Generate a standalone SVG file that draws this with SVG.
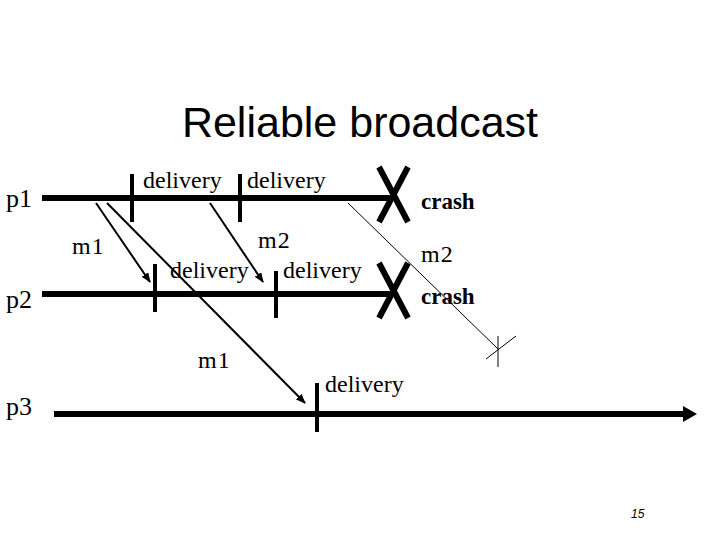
<svg xmlns="http://www.w3.org/2000/svg" width="720" height="540" viewBox="0 0 720 540">
<style>
.proc{stroke:#000;stroke-width:6;fill:none}
.tick{stroke:#000;stroke-width:4}
.x{stroke:#000;stroke-width:6}
.msg{stroke:#000;stroke-width:2;fill:none}
.thin{stroke:#000;stroke-width:1;fill:none}
.lbl{font-family:"Liberation Serif",serif;font-size:24px;fill:#000}
.plbl{font-family:"Liberation Serif",serif;font-size:26px;fill:#000}
.crash{font-family:"Liberation Serif",serif;font-size:23px;font-weight:bold;fill:#000}
</style>
<defs>
<marker id="ah" markerWidth="10" markerHeight="8" refX="9" refY="4" orient="auto" markerUnits="userSpaceOnUse">
<path d="M0,0 L10,4 L0,8 z" fill="#000"/>
</marker>
</defs>
<rect width="720" height="540" fill="#fff"/>
<text x="360" y="137" text-anchor="middle" font-family="Liberation Sans,Arial,sans-serif" font-size="43" fill="#000">Reliable broadcast</text>

<g id="p1">
<text class="plbl" x="6" y="207">p1</text>
<line class="proc" x1="42" y1="198" x2="393" y2="198"/>
<line class="tick" x1="132" y1="174" x2="132" y2="222"/>
<line class="tick" x1="240" y1="174" x2="240" y2="222"/>
<text class="lbl" x="143" y="188">delivery</text>
<text class="lbl" x="247" y="188">delivery</text>
<line class="x" x1="379" y1="167" x2="408" y2="222"/>
<line class="x" x1="408" y1="167" x2="379" y2="222"/>
<text class="crash" x="421" y="209">crash</text>
</g>

<g id="p2">
<text class="plbl" x="6" y="308">p2</text>
<line class="proc" x1="42" y1="294" x2="393" y2="294"/>
<line class="tick" x1="155" y1="264" x2="155" y2="312"/>
<line class="tick" x1="276" y1="271" x2="276" y2="318"/>
<text class="lbl" x="170" y="278">delivery</text>
<text class="lbl" x="283" y="278">delivery</text>
<line class="x" x1="379" y1="263" x2="408" y2="318"/>
<line class="x" x1="408" y1="263" x2="379" y2="318"/>
<text class="crash" x="421" y="304">crash</text>
</g>

<g id="p3">
<text class="plbl" x="6" y="415">p3</text>
<line class="proc" x1="54" y1="414" x2="686" y2="414"/>
<polygon points="683,406 697,414 683,422" fill="#000"/>
<line class="tick" x1="317" y1="383" x2="317" y2="432"/>
<text class="lbl" x="325" y="392">delivery</text>
</g>

<g id="connectors">
<line class="msg" x1="96" y1="203" x2="150" y2="282" marker-end="url(#ah)"/>
<line class="msg" x1="107" y1="203" x2="305" y2="403" marker-end="url(#ah)"/>
<line class="msg" x1="210" y1="203" x2="263" y2="282" marker-end="url(#ah)"/>
<line class="thin" x1="348" y1="203" x2="498" y2="349"/>
<line class="thin" x1="498" y1="336" x2="498" y2="367"/>
<line class="thin" x1="486" y1="359" x2="516" y2="336"/>
<text class="lbl" x="72" y="254" letter-spacing="1">m1</text>
<text class="lbl" x="258" y="248" letter-spacing="1">m2</text>
<text class="lbl" x="421" y="262" letter-spacing="1">m2</text>
<text class="lbl" x="198" y="368" letter-spacing="1">m1</text>
</g>

<text x="631" y="518" font-family="Liberation Sans,Arial,sans-serif" font-size="12" font-style="italic" fill="#000">15</text>
</svg>
